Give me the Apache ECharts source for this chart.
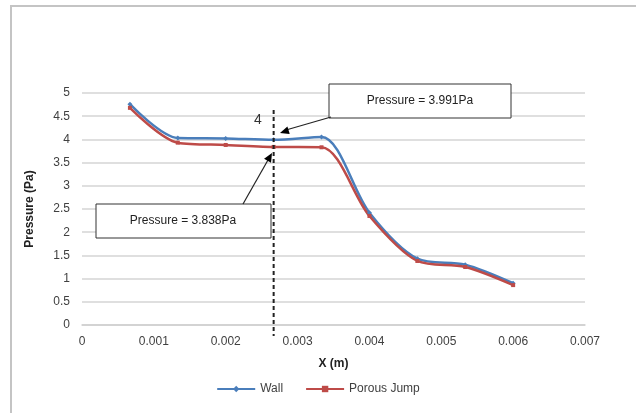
<!DOCTYPE html>
<html><head><meta charset="utf-8">
<script src="https://cdn.jsdelivr.net/npm/echarts@6/dist/echarts.min.js"></script>
<style>html,body{margin:0;padding:0;background:#fff}#c{width:636px;height:413px}</style>
</head><body><div id="c"></div>
<script>
const xValues = [0.000667, 0.001333, 0.002, 0.002667, 0.003333, 0.004, 0.004667, 0.005333, 0.006];
const wallValues = [4.76, 4.03, 4.02, 3.991, 4.05, 2.42, 1.43, 1.30, 0.90];
const porousValues = [4.68, 3.93, 3.88, 3.838, 3.83, 2.35, 1.38, 1.25, 0.86];
const xTicks = ['0','0.001','0.002','0.003','0.004','0.005','0.006','0.007'];
const yTicks = ['0','0.5','1','1.5','2','2.5','3','3.5','4','4.5','5'];
const markerX = 0.002667;
const labelWall = 'Pressure = 3.991Pa';
const labelPorous = 'Pressure = 3.838Pa';

const chart = echarts.init(document.getElementById('c'));
const txt = '#404040';
chart.setOption({
  animation: false,
  backgroundColor: '#fff',
  grid: {left: 82, right: 51, top: 93, bottom: 88},
  xAxis: {
    type: 'value', min: 0, max: 0.007, interval: 0.001,
    axisLine: {show: true, lineStyle: {color: '#d0d0d0', width: 1.5}},
    axisTick: {show: false},
    splitLine: {show: false},
    axisLabel: {color: txt, fontSize: 12, fontFamily: 'Liberation Sans', margin: 11,
      formatter: v => xTicks[Math.round(v / 0.001)]},
    name: 'X (m)', nameLocation: 'middle', nameGap: 33,
    nameTextStyle: {color: '#222', fontSize: 12, fontWeight: 'bold', fontFamily: 'Liberation Sans'}
  },
  yAxis: {
    type: 'value', min: 0, max: 5, interval: 0.5,
    axisLine: {show: false}, axisTick: {show: false},
    splitLine: {lineStyle: {color: '#d4d4d4', width: 1.5}},
    axisLabel: {color: txt, fontSize: 12, fontFamily: 'Liberation Sans', margin: 12,
      formatter: v => yTicks[Math.round(v / 0.5)]},
    name: 'Pressure (Pa)', nameLocation: 'middle', nameGap: 46, nameRotate: 90,
    nameTextStyle: {color: '#222', fontSize: 12, fontWeight: 'bold', fontFamily: 'Liberation Sans'}
  },
  legend: {
    bottom: 13, left: 'center', itemGap: 22, itemWidth: 38, itemHeight: 8,
    textStyle: {color: txt, fontSize: 12, fontFamily: 'Liberation Sans'},
    data: ['Wall', 'Porous Jump']
  },
  series: [
    {name: 'Wall', type: 'line', smooth: 0.3, symbol: 'diamond', symbolSize: 5,
      data: xValues.map((x, i) => [x, wallValues[i]]),
      lineStyle: {color: '#4a7ebb', width: 2.5}, itemStyle: {color: '#4a7ebb'}},
    {name: 'Porous Jump', type: 'line', smooth: 0.3, symbol: 'rect', symbolSize: 4,
      data: xValues.map((x, i) => [x, porousValues[i]]),
      lineStyle: {color: '#be4b48', width: 2.5}, itemStyle: {color: '#be4b48'}}
  ]
});

const mx = chart.convertToPixel({xAxisIndex: 0}, markerX);
const arrowHead = (x1, y1, x2, y2) => {
  const a = Math.atan2(y2 - y1, x2 - x1), L = 9, W = 4;
  const bx = x2 - L * Math.cos(a), by = y2 - L * Math.sin(a);
  return {type: 'polygon', shape: {points: [[x2, y2],
    [bx + W * Math.sin(a), by - W * Math.cos(a)], [bx - W * Math.sin(a), by + W * Math.cos(a)]]},
    style: {fill: '#000'}, z: 20};
};
chart.setOption({
  graphic: [
    {type: 'rect', shape: {x: 11, y: 6, width: 640, height: 420}, style: {fill: null, stroke: '#c4c4c4', lineWidth: 2}, z: 1},
    {type: 'line', shape: {x1: mx, y1: 110, x2: mx, y2: 336}, style: {stroke: '#222', lineWidth: 2, lineDash: [4, 3]}, z: 15},
    {type: 'text', x: 254, y: 113, style: {text: '4', fill: '#333', fontSize: 14, fontFamily: 'Liberation Sans'}, z: 15},
    {type: 'rect', shape: {x: 329, y: 84, width: 182, height: 34}, style: {fill: '#fff', stroke: '#333', lineWidth: 1}, z: 16},
    {type: 'text', x: 420, y: 101, style: {text: labelWall, fill: '#222', fontSize: 12, fontFamily: 'Liberation Sans', align: 'center', verticalAlign: 'middle'}, z: 17},
    {type: 'line', shape: {x1: 331, y1: 117, x2: 286, y2: 130}, style: {stroke: '#222', lineWidth: 1.2}, z: 20},
    arrowHead(331, 117, 280, 133),
    {type: 'rect', shape: {x: 96, y: 204, width: 175, height: 34}, style: {fill: '#fff', stroke: '#333', lineWidth: 1}, z: 16},
    {type: 'text', x: 183, y: 221, style: {text: labelPorous, fill: '#222', fontSize: 12, fontFamily: 'Liberation Sans', align: 'center', verticalAlign: 'middle'}, z: 17},
    {type: 'line', shape: {x1: 243, y1: 204, x2: 268, y2: 160}, style: {stroke: '#222', lineWidth: 1.2}, z: 20},
    arrowHead(243, 204, 272, 153)
  ]
});
</script></body></html>
